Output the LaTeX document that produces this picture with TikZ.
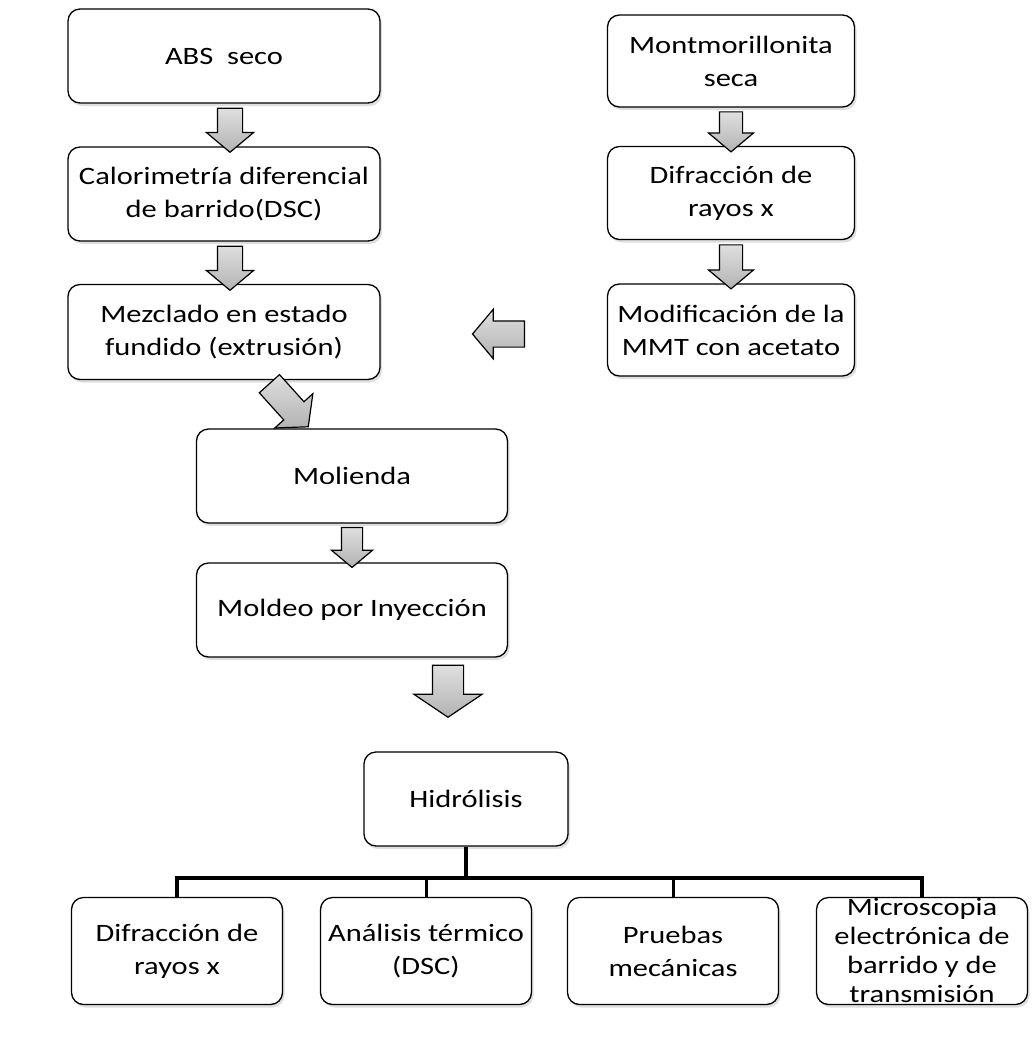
\documentclass[tikz,border=0pt]{standalone}
\usepackage{fontspec}
\setmainfont{Carlito}[FakeStretch=1.22]
\usetikzlibrary{shapes.arrows,shadows}
\begin{document}
\begin{tikzpicture}[x=1pt,y=-1pt,
  box/.style={draw=black,line width=1.3pt,rounded corners=12pt,fill=white,
    align=center,inner sep=0pt,font=\fontsize{25}{33}\selectfont,
    drop shadow={shadow xshift=2pt,shadow yshift=-3pt,fill=black!25,opacity=0.5}},
  blockarrow/.style n args={3}{single arrow,draw=black,line width=1.2pt,
    top color=gray!25,bottom color=gray!60,inner xsep=0pt,inner ysep=#2/2,
    single arrow head extend=#3/2-#2/2,minimum height=#1,
    single arrow tip angle=100,text width=0pt},
  bus/.style={line width=4pt}]
\useasboundingbox (0,0) rectangle (1032,1041);
% left column
\node[box,minimum width=312pt,minimum height=94pt] (abs) at (224,56) {ABS\ \ seco};
\node[box,minimum width=312pt,minimum height=94pt] (cal) at (224,194) {Calorimetría diferencial\\de barrido(DSC)};
\node[box,minimum width=312pt,minimum height=95pt] (mez) at (224,332) {Mezclado en estado\\fundido (extrusión)};
% right column
\node[box,minimum width=247pt,minimum height=92pt] (mon) at (731,61) {Montmorillonita\\seca};
\node[box,minimum width=247pt,minimum height=93pt] (dif) at (731,193) {Difracción de\\rayos x};
\node[box,minimum width=247pt,minimum height=92pt] (mod) at (731,330) {Modificación de la\\MMT con acetato};
% middle
\node[box,minimum width=311pt,minimum height=94pt] (mol) at (352,476) {Molienda};
\node[box,minimum width=311pt,minimum height=94pt] (mold) at (352,610) {Moldeo por Inyección};
\node[box,minimum width=204pt,minimum height=94pt] (hid) at (466,799) {Hidrólisis};
% bottom row
\node[box,minimum width=211pt,minimum height=107pt] (b1) at (177,951) {Difracción de\\rayos x};
\node[box,minimum width=211pt,minimum height=107pt] (b2) at (426,951) {Análisis térmico\\(DSC)};
\node[box,minimum width=211pt,minimum height=107pt] (b3) at (673,951) {Pruebas\\mecánicas};
\node[box,minimum width=211pt,minimum height=107pt] (b4) at (922,951) {};
\node[align=center,font=\fontsize{25}{29}\selectfont] (b4t) at (922,950) {Microscopia\\electrónica de\\barrido y de\\transmisión};
% block arrows
\node[blockarrow={44pt}{24pt}{46pt},rotate=-90] (a1) at (230,125) {};
\node[blockarrow={44pt}{24pt}{46pt},rotate=-90] (a2) at (230,263) {};
\node[blockarrow={40pt}{22pt}{44pt},rotate=-90] (a3) at (731,127) {};
\node[blockarrow={44pt}{22pt}{44pt},rotate=-90] (a4) at (731,262) {};
\node[blockarrow={52pt}{25pt}{48pt},rotate=180] (a5) at (504,334) {};
\node[blockarrow={58pt}{26pt}{50pt},rotate=-48] (a6) at (285,401) {};
\node[blockarrow={40pt}{20pt}{40pt},rotate=-90] (a7) at (352,543) {};
\node[blockarrow={52pt}{30pt}{67pt},single arrow tip angle=112,rotate=-90] (a8) at (448,686) {};
% bus connectors
\coordinate (j) at (466,878);
\draw[bus] (hid.south) -- (j);
\draw[bus] (b1.north) |- (j);
\draw[bus] (b4.north) |- (j);
\draw[line width=3pt] (b2.north) -- (b2.north |- j);
\draw[line width=3pt] (b3.north) -- (b3.north |- j);
\end{tikzpicture}
\end{document}
